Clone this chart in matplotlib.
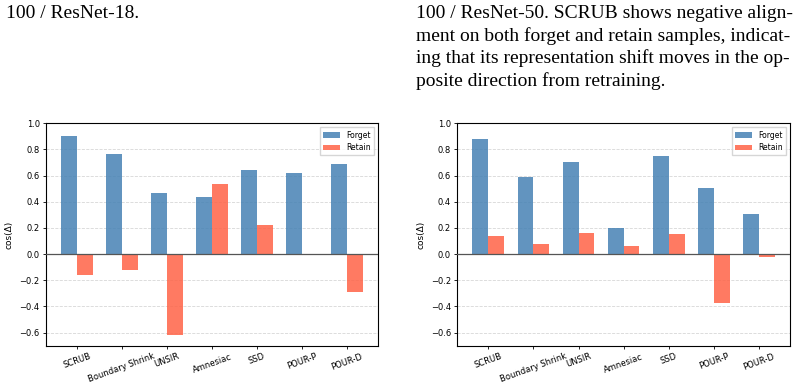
import matplotlib
matplotlib.use("Agg")
import matplotlib.pyplot as plt
import numpy as np

methods = ["SCRUB", "Boundary Shrink", "UNSIR", "Amnesiac", "SSD", "POUR-P", "POUR-D"]
r18_forget = [0.903, 0.766, 0.468, 0.438, 0.644, 0.621, 0.690]
r18_retain = [-0.163, -0.120, -0.616, 0.537, 0.224, -0.010, -0.293]
r50_forget = [0.880, 0.590, 0.705, 0.201, 0.751, 0.506, 0.308]
r50_retain = [0.140, 0.079, 0.163, 0.064, 0.155, -0.377, -0.025]
yticks = [-0.6, -0.4, -0.2, 0.0, 0.2, 0.4, 0.6, 0.8, 1.0]

left_caption = ["100 / ResNet-18."]
right_caption = ["100 / ResNet-50. SCRUB shows negative align-",
                 "ment on both forget and retain samples, indicat-",
                 "ing that its representation shift moves in the op-",
                 "posite direction from retraining."]

W, H = 802, 385
fig = plt.figure(figsize=(W / 100, H / 100), dpi=100)

serif = ["Liberation Serif", "DejaVu Serif"]
line_h = 22.7
base0 = 18.0
for i, s in enumerate(left_caption):
    fig.text(6 / W, 1 - (base0 + i * line_h) / H, s, family=serif, fontsize=14,
             va="baseline", ha="left")
for i, s in enumerate(right_caption):
    fig.text(416 / W, 1 - (base0 + i * line_h) / H, s, family=serif, fontsize=14,
             va="baseline", ha="left")

blue = (70 / 255, 130 / 255, 180 / 255, 0.85)
red = (1.0, 99 / 255, 71 / 255, 0.85)


def draw(ax, forget, retain):
    x = np.arange(len(methods))
    w = 0.35
    ax.bar(x - w / 2, forget, w, color=blue, label="Forget", zorder=2)
    ax.bar(x + w / 2, retain, w, color=red, label="Retain", zorder=2)
    ax.axhline(0, color="#555555", linewidth=0.9, zorder=3)
    ax.set_ylim(-0.7, 1.0)
    ax.set_yticks(yticks)
    ax.set_yticklabels([f"{v:.1f}".replace("-", "\u2212") for v in yticks])
    ax.set_xticks(x)
    ax.set_xticklabels(methods, rotation=20, ha="center")
    ax.tick_params(labelsize=6, length=2.5, width=0.6, pad=2)
    ax.grid(axis="y", linestyle="--", alpha=0.5, linewidth=0.6, zorder=0)
    ax.set_ylabel("cos(\u0394)", fontsize=6.5, labelpad=4)
    for sp in ax.spines.values():
        sp.set_linewidth(0.8)
    ax.legend(loc="upper right", fontsize=5.5, handlelength=2.2, borderpad=0.45,
              labelspacing=0.45, framealpha=0.8, fancybox=False, edgecolor="#cccccc")


ax1 = fig.add_axes([46 / W, 1 - 345.7 / H, 332 / W, 222.4 / H])
ax2 = fig.add_axes([457.3 / W, 1 - 345.7 / H, 332.7 / W, 222.4 / H])
draw(ax1, r18_forget, r18_retain)
draw(ax2, r50_forget, r50_retain)

fig.savefig("out.png", dpi=100)
